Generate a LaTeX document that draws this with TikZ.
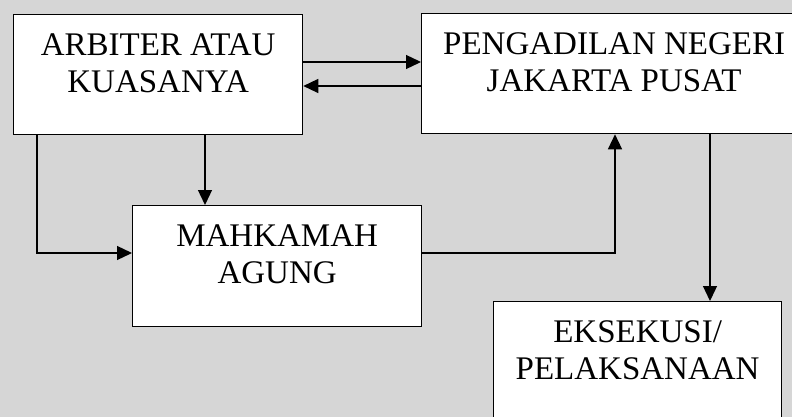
\documentclass[tikz,border=0pt]{standalone}
\usepackage{fontspec}
\setmainfont{Liberation Serif}
\usetikzlibrary{arrows.meta}
\definecolor{pagegrey}{HTML}{D6D6D6}
% box text: fixed-size parbox, first baseline 41pt below the top edge
\newcommand\blocktext[3]{\parbox[t][#2][t]{#1}{\centering\fontsize{33}{37}\selectfont\rule{0pt}{41pt}#3\par}}
\tikzset{
  block/.style={draw=black, line width=1.3pt, fill=white, inner sep=0pt, anchor=north west},
  flow/.style={line width=1.3pt, -{Triangle[length=15pt,width=14pt]}}
}
\begin{document}
\begin{tikzpicture}[x=1pt,y=-1pt]
  \useasboundingbox (0,0) rectangle (792,417);
  \fill[pagegrey] (0,0) rectangle (792,417);
  \begin{scope}
    \clip (0,0) rectangle (792,417);
    \node[block] (A) at (13,14)  {\blocktext{289pt}{120pt}{ARBITER ATAU\\KUASANYA}};
    \node[block] (P) at (421,13) {\blocktext{385pt}{120pt}{PENGADILAN NEGERI\\JAKARTA PUSAT}};
    \node[block] (M) at (132,205) {\blocktext{289pt}{121pt}{MAHKAMAH\\AGUNG}};
    \node[block] (E) at (493,301) {\blocktext{288pt}{125pt}{EKSEKUSI/\\PELAKSANAAN}};

    \draw[flow] (A.east |- 0,62) -- (P.west |- 0,62);
    \draw[flow] (P.west |- 0,86) -- (A.east |- 0,86);
    \draw[flow] (A.south -| 205,0) -- (M.north -| 205,0);
    \draw[flow] (A.south -| 37,0) |- (M.west |- 0,253);
    \draw[flow] (M.east |- 0,253) -| (P.south -| 615,0);
    \draw[flow] (P.south -| 710,0) -- (E.north -| 710,0);
  \end{scope}
\end{tikzpicture}
\end{document}
